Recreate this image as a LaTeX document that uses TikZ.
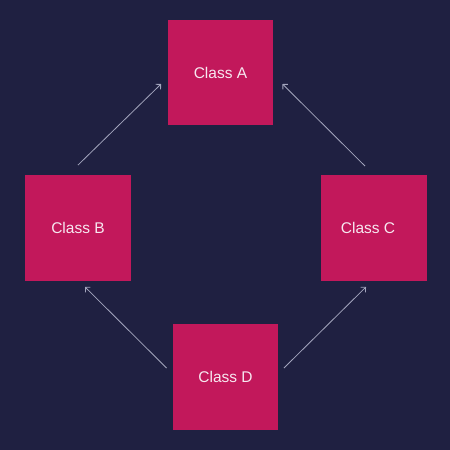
\documentclass[tikz,border=0pt]{standalone}
\usepackage{fontspec}
\setmainfont{Liberation Sans}
\usetikzlibrary{arrows.meta}
\definecolor{bgc}{HTML}{1F2041}
\definecolor{boxc}{HTML}{C2185B}
\definecolor{linec}{HTML}{A3A5BD}
\definecolor{txtc}{HTML}{F7E8F0}
\begin{document}
\begin{tikzpicture}[x=1pt,y=-1pt,
  classbox/.style={fill=boxc, draw=none, minimum width=105.5pt, minimum height=105.5pt, inner sep=0pt, text=txtc, font=\fontsize{15.5}{18}\selectfont},
  conn/.style={draw=linec, line width=0.8pt, -{Straight Barb[length=3.5pt,width=7pt]}}]
\fill[bgc] (0,0) rectangle (450,450);
\useasboundingbox (0,0) rectangle (450,450);
\node[classbox] (A) at (220.5,72.5) {Class A};
\node[classbox] (B) at (78,228) {Class B};
\node[classbox] (C) at (374,228) {\hspace*{-12pt}Class C};
\node[classbox] (D) at (225.5,377) {Class D};
\draw[conn] ([yshift=10pt]B.north) -- ([xshift=-6.5pt,yshift=-11.5pt]A.west);
\draw[conn] ([xshift=-9pt,yshift=9pt]C.north) -- ([xshift=9pt,yshift=-11.5pt]A.east);
\draw[conn] ([xshift=-6pt,yshift=9pt]D.west) -- ([xshift=7pt,yshift=-6pt]B.south);
\draw[conn] ([xshift=5.5pt,yshift=9pt]D.east) -- ([xshift=-8pt,yshift=-6pt]C.south);
\end{tikzpicture}
\end{document}
